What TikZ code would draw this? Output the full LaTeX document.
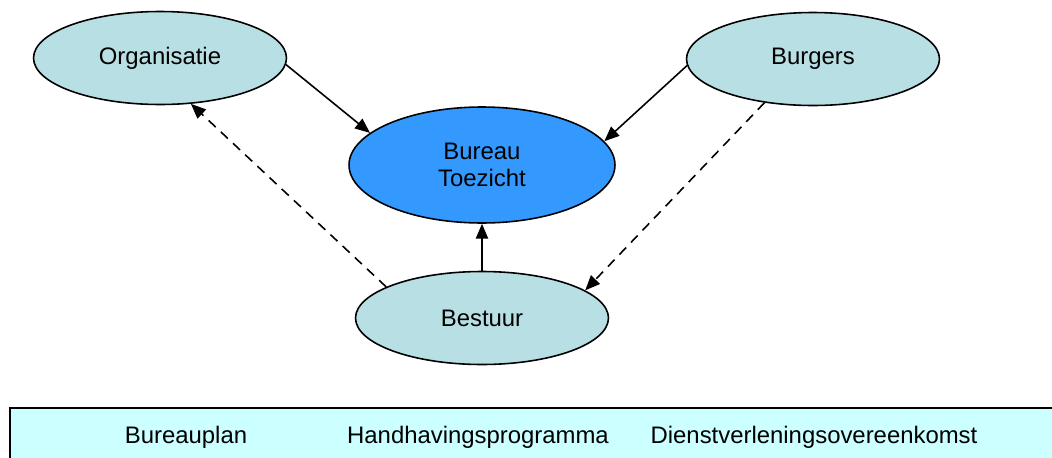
\documentclass[tikz,border=0pt]{standalone}
\usepackage{fontspec}
\setmainfont{Liberation Sans}
\usepackage{tikz}
\usetikzlibrary{shapes.geometric, arrows.meta, positioning}

\definecolor{ellcyan}{RGB}{184,223,227}
\definecolor{ellblue}{RGB}{51,153,255}
\definecolor{stripcyan}{RGB}{204,255,255}

\begin{document}
\begin{tikzpicture}[
        x=0.02cm, y=-0.02cm,
        font=\fontsize{13.6}{15.5}\selectfont,
        actor/.style={ellipse, draw, line width=0.9pt, fill=ellcyan, inner sep=0pt, minimum width=5.06cm, minimum height=1.86cm, align=center},
        centre/.style={actor, fill=ellblue, minimum width=5.32cm, minimum height=2.32cm},
        stripbox/.style={rectangle, draw, line width=0.9pt, fill=stripcyan, minimum width=21.04cm, minimum height=1.18cm},
        arrow/.style={line width=0.9pt, ->, >={Triangle[length=8.5pt, width=7pt]}},
        dasharrow/.style={arrow, dash pattern=on 5.5pt off 4pt}
        ]

        \clip (0,0) rectangle (1052,457);

        \node (ellOrg) [actor] at (160,58) {Organisatie};
        \node (ellBurg) [actor] at (813,59) {Burgers};
        \node (ellBureau) [centre] at (482,165) {Bureau\\Toezicht};
        \node (ellBestuur) [actor] at (482,318) {Bestuur};

        \node (strip) [stripbox] at (536,437.5) {};
        \node (txtPlan) at (186,437) {Bureauplan};
        \node (txtProg) at (478,437) {Handhavingsprogramma};
        \node (txtDvo) at (814,437) {Dienstverleningsovereenkomst};

        \draw [arrow] (ellOrg.-3) -- (ellBureau.164);
        \draw [arrow] (ellBurg.183) -- (ellBureau.11);
        \draw [arrow] (ellBestuur.north) -- (ellBureau.south);
        \draw [dasharrow] (ellBestuur.162) -- (ellOrg.-56);
        \draw [dasharrow] (ellBurg.222) -- (ellBestuur.15);

    \end{tikzpicture}
\end{document}
